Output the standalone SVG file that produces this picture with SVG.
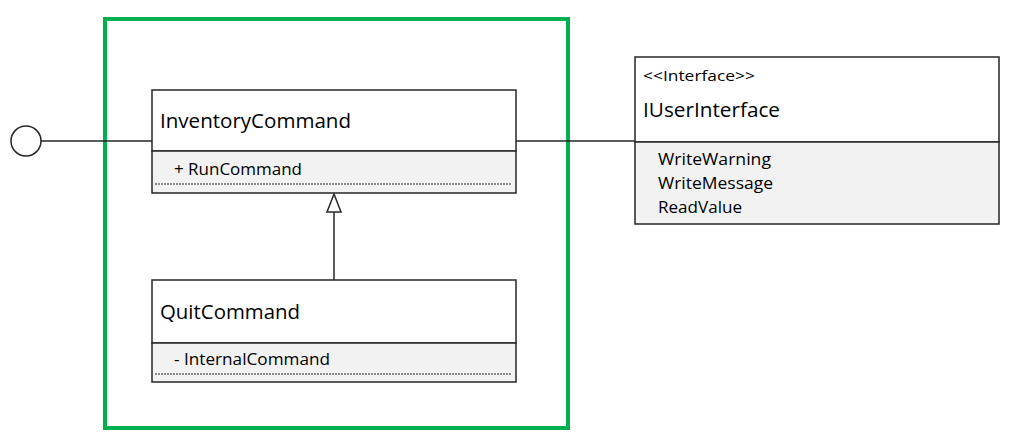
<svg xmlns="http://www.w3.org/2000/svg" width="1009" height="444" viewBox="0 0 1009 444">
<defs>
<style>
.box{fill:#fff;stroke:#262626;stroke-width:1.5}
.cmp{fill:#f2f2f2;stroke:#262626;stroke-width:1.5}
.dot{stroke:#262626;stroke-width:1;stroke-dasharray:2 1}
.ln{stroke:#262626;stroke-width:1.5;fill:none}
.head{fill:#fff;stroke:#262626;stroke-width:1.5}
.t{font-family:"Open Sans","Noto Sans",sans-serif;fill:#000}
.big{font-size:20px}
.sm{font-size:16px}
.st{font-size:14px}
</style>
</defs>
<rect x="0" y="0" width="1009" height="444" fill="#fff"/>
<g id="boundary">
<rect x="105" y="19" width="463" height="409" fill="none" stroke="#00B050" stroke-width="4"/>
</g>
<g id="connectors">
<line class="ln" x1="41" y1="141" x2="152" y2="141"/>
<line class="ln" x1="516" y1="141" x2="635" y2="141"/>
<line class="ln" x1="334" y1="280" x2="334" y2="212"/>
<polygon class="head" points="334,194 341,212 327,212"/>
</g>
<g id="port">
<circle cx="26" cy="141" r="15" fill="#fff" stroke="#262626" stroke-width="1.5"/>
</g>
<g id="InventoryCommand">
<rect class="box" x="152" y="90" width="364" height="61"/>
<rect class="cmp" x="152" y="151" width="364" height="42"/>
<line class="dot" x1="155" y1="184" x2="511" y2="184"/>
<text class="t big" x="160" y="128" textLength="191" lengthAdjust="spacingAndGlyphs">InventoryCommand</text>
<text class="t sm" x="174" y="175" textLength="128" lengthAdjust="spacingAndGlyphs">+ RunCommand</text>
</g>
<g id="QuitCommand">
<rect class="box" x="152" y="280" width="364" height="63"/>
<rect class="cmp" x="152" y="343" width="364" height="39"/>
<line class="dot" x1="155" y1="374" x2="511" y2="374"/>
<text class="t big" x="160" y="319" textLength="140" lengthAdjust="spacingAndGlyphs">QuitCommand</text>
<text class="t sm" x="174" y="365" textLength="156" lengthAdjust="spacingAndGlyphs">- InternalCommand</text>
</g>
<g id="IUserInterface">
<rect class="box" x="635" y="57" width="364" height="85"/>
<rect class="cmp" x="635" y="142" width="364" height="82"/>
<text class="t st" x="643" y="81" textLength="112" lengthAdjust="spacingAndGlyphs">&lt;&lt;Interface&gt;&gt;</text>
<text class="t big" x="643" y="117" textLength="137" lengthAdjust="spacingAndGlyphs">IUserInterface</text>
<text class="t sm" x="658" y="165" textLength="113" lengthAdjust="spacingAndGlyphs">WriteWarning</text>
<text class="t sm" x="658" y="189" textLength="115" lengthAdjust="spacingAndGlyphs">WriteMessage</text>
<text class="t sm" x="658" y="213" textLength="84" lengthAdjust="spacingAndGlyphs">ReadValue</text>
</g>
</svg>
